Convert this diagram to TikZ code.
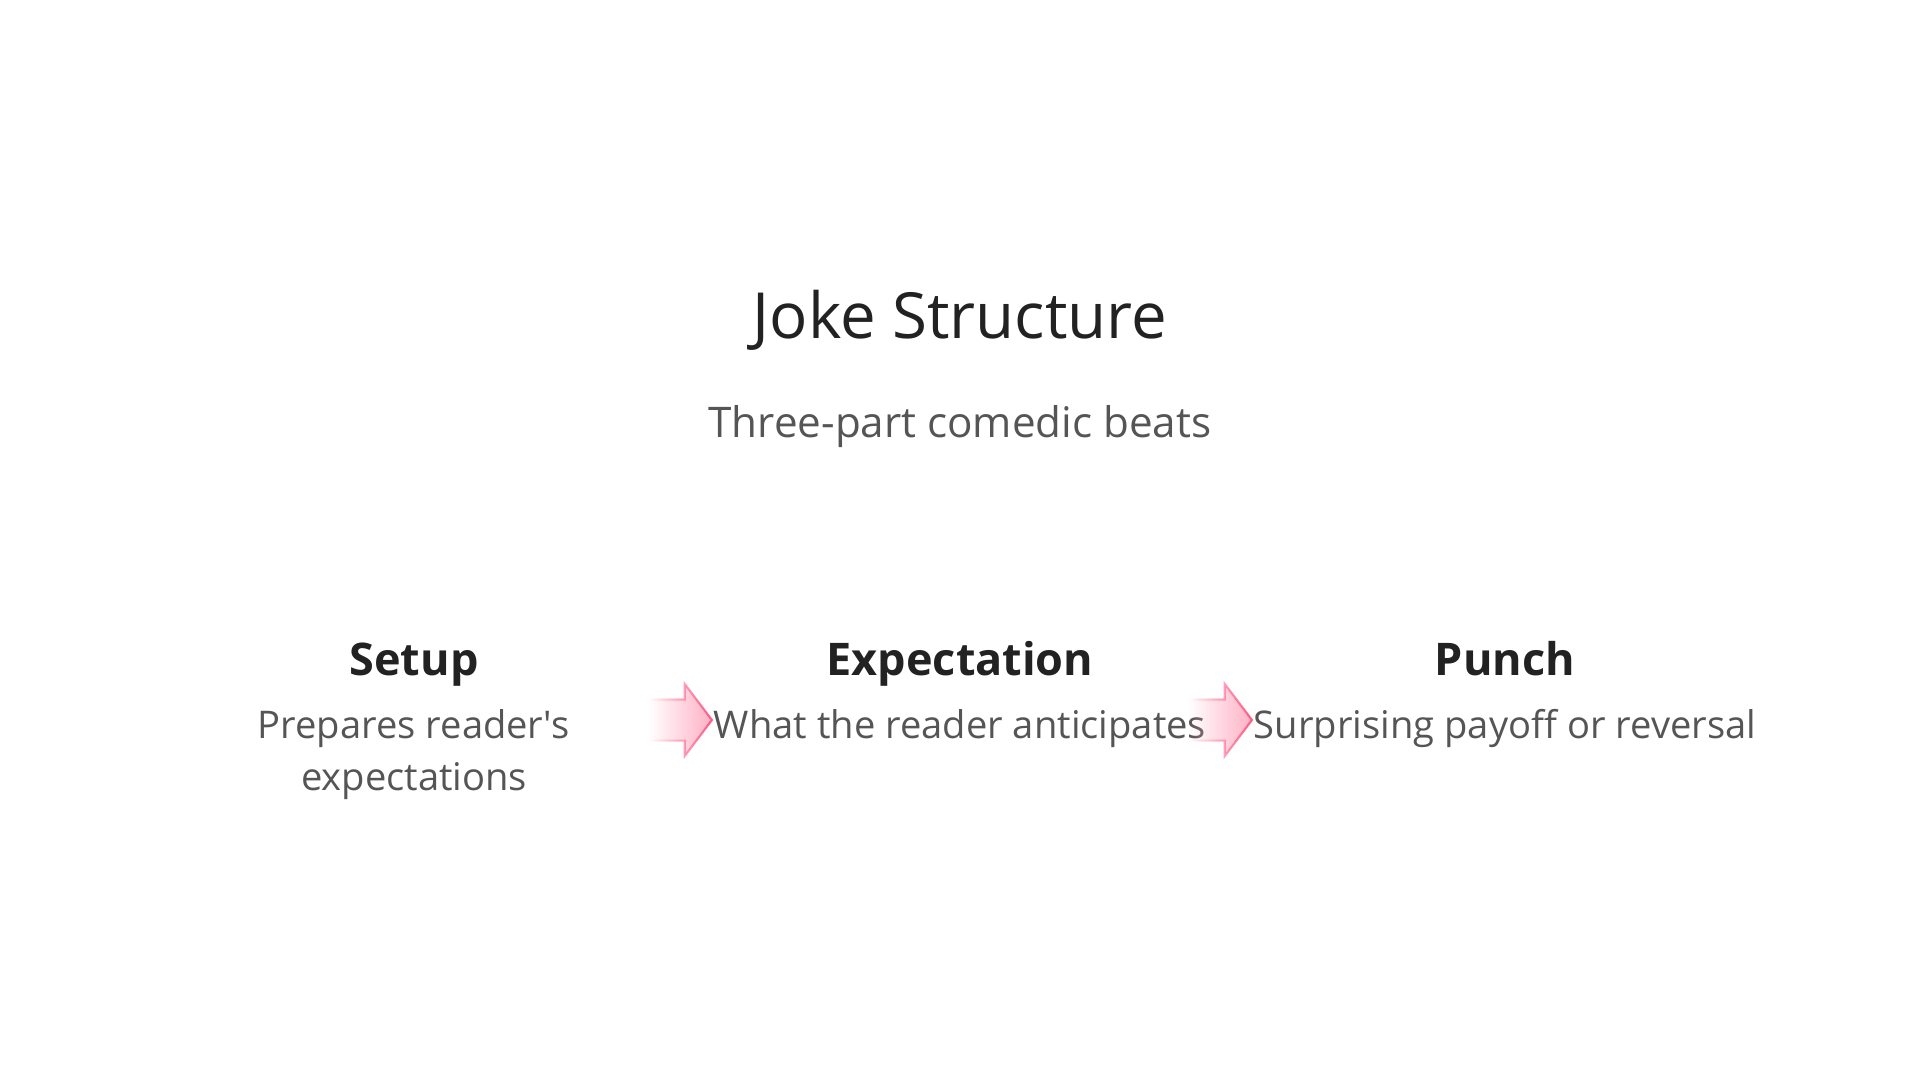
\documentclass[tikz,border=0pt]{standalone}
\usepackage{fontspec}
\setmainfont{Open Sans}
\usetikzlibrary{positioning,shapes.arrows,fadings}
\definecolor{inkdark}{HTML}{222222}
\definecolor{inkgrey}{HTML}{555555}
\definecolor{beatpink}{HTML}{FFAFC3}
\definecolor{beatedge}{HTML}{FF5A84}
\tikzfading[name=beatfade, left color=transparent!100, right color=transparent!0]
\begin{document}
\begin{tikzpicture}[
	title/.style={font=\fontsize{18.1}{22}\selectfont, text=inkdark, inner sep=0pt, anchor=base},
	sub/.style={font=\fontsize{12}{14}\selectfont, text=inkgrey, inner sep=0pt, anchor=base},
	beat/.style={font=\bfseries\fontsize{12.8}{15}\selectfont, text=inkdark, inner sep=0pt, anchor=base},
	note/.style={font=\fontsize{10.85}{14.7}\selectfont, text=inkgrey, inner sep=0pt, align=center, anchor=base},
	beatarrow/.style={single arrow, minimum height=0.62cm, inner xsep=0pt, inner ysep=0.195cm, single arrow head extend=0.155cm,
		single arrow tip angle=106, fill=beatpink, draw=beatedge, line width=0.6pt, path fading=beatfade, anchor=tip}
	]
	\useasboundingbox (0,0) rectangle (19.2,-10.8);
	\node[title] (head) at (9.6,-3.39) {Joke Structure};
	\node[sub] (subhead) at (9.6,-4.38) {Three-part comedic beats};
	\node[beat] (setup) at (4.14,-6.75) {Setup};
	\node[beat] (expect) at (9.6,-6.75) {Expectation};
	\node[beat] (punch) at (15.05,-6.75) {Punch};
	% base of a two-line note is its last line
	\node[note] (setupnote) at (4.14,-7.90) {Prepares reader\textquotesingle s\\expectations};
	\node[note] (expectnote) at (9.6,-7.38) {What the reader anticipates};
	\node[note] (punchnote) at (15.05,-7.38) {Surprising payoff or reversal};
	% arrows between the beats
	\node[beatarrow] (arrA) at ([yshift=0.18cm]expectnote.base west) {};
	\node[beatarrow] (arrB) at ([yshift=0.18cm]punchnote.base west) {};
\end{tikzpicture}
\end{document}
